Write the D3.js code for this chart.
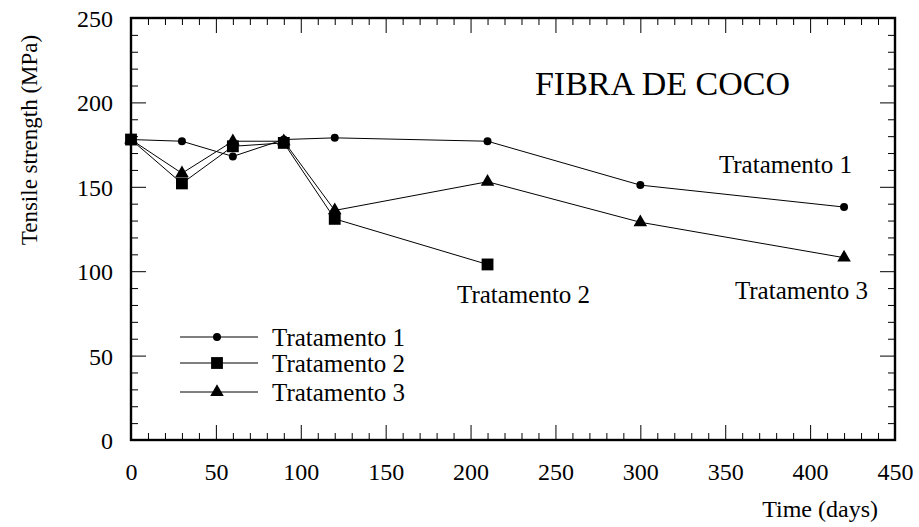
<!DOCTYPE html>
<html>
<head>
<meta charset="utf-8">
<script src="https://cdn.jsdelivr.net/npm/d3@7"></script>
<style>
  html, body { margin: 0; padding: 0; background: #fff; }
  svg, svg text { font-family: "Liberation Serif", "Times New Roman", Times, "DejaVu Serif", serif !important; fill: #000; }
</style>
</head>
<body>
<svg id="chart" width="919" height="527" font-family="Liberation Serif, serif"></svg>
<script>
// ---- data ----
const daysT1 = [0, 30, 60, 90, 120, 210, 300, 420];
const valuesT1 = [178, 177, 168, 178, 179, 177, 151, 138];
const daysT2 = [0, 30, 60, 90, 120, 210];
const valuesT2 = [178, 152, 174, 176, 131, 104];
const daysT3 = [0, 30, 60, 90, 120, 210, 300, 420];
const valuesT3 = [178, 158, 177, 177, 136, 153, 129, 108];
const seriesNames = ["Tratamento 1", "Tratamento 2", "Tratamento 3"];
const xTickValues = [0, 50, 100, 150, 200, 250, 300, 350, 400, 450];
const yTickValues = [0, 50, 100, 150, 200, 250];
const chartTitle = "FIBRA DE COCO";
const xTitle = "Time (days)";
const yTitle = "Tensile strength (MPa)";

const series = [
  { name: seriesNames[0], days: daysT1, values: valuesT1, symbol: "circle" },
  { name: seriesNames[1], days: daysT2, values: valuesT2, symbol: "square" },
  { name: seriesNames[2], days: daysT3, values: valuesT3, symbol: "triangle" }
];

const FONT = "'Liberation Serif', 'Times New Roman', serif";
const svg = d3.select("#chart");
const pLeft = 131, pRight = 895, pTop = 18, pBottom = 440;

const x = d3.scaleLinear().domain([0, 450]).range([pLeft, pRight]);
const y = d3.scaleLinear().domain([0, 250]).range([pBottom, pTop]);

const majorLen = 15, minorLen = 7;
const xMinor = d3.range(0, 451, 10).filter(v => v % 50 !== 0);
const yMinor = d3.range(0, 251, 10).filter(v => v % 50 !== 0);

function styleAxis(g) {
  g.attr("font-family", FONT);
  g.select(".domain").remove();
  g.selectAll(".tick line").attr("stroke", "#000").attr("stroke-width", 1);
}

// bottom axis (ticks inward)
const gB = svg.append("g").attr("transform", `translate(0,${pBottom})`)
  .call(d3.axisBottom(x).tickValues(xTickValues).tickSize(-majorLen).tickFormat(d3.format("d")));
styleAxis(gB);
gB.selectAll(".tick text").attr("font-size", 24).attr("font-family", FONT).attr("dy", "0.35em").attr("y", 32);
svg.append("g").attr("transform", `translate(0,${pBottom})`)
  .call(d3.axisBottom(x).tickValues(xMinor).tickSize(-minorLen).tickFormat(""))
  .call(styleAxis);

// top axis
svg.append("g").attr("transform", `translate(0,${pTop})`)
  .call(d3.axisTop(x).tickValues(xTickValues).tickSize(-majorLen).tickFormat(""))
  .call(styleAxis);
svg.append("g").attr("transform", `translate(0,${pTop})`)
  .call(d3.axisTop(x).tickValues(xMinor).tickSize(-minorLen).tickFormat(""))
  .call(styleAxis);

// left axis
const gL = svg.append("g").attr("transform", `translate(${pLeft},0)`)
  .call(d3.axisLeft(y).tickValues(yTickValues).tickSize(-majorLen).tickFormat(d3.format("d")));
styleAxis(gL);
gL.selectAll(".tick text").attr("font-size", 24).attr("font-family", FONT).attr("x", -18).attr("dy", "0.35em").attr("text-anchor", "end");
svg.append("g").attr("transform", `translate(${pLeft},0)`)
  .call(d3.axisLeft(y).tickValues(yMinor).tickSize(-minorLen).tickFormat(""))
  .call(styleAxis);

// right axis
svg.append("g").attr("transform", `translate(${pRight},0)`)
  .call(d3.axisRight(y).tickValues(yTickValues).tickSize(-majorLen).tickFormat(""))
  .call(styleAxis);
svg.append("g").attr("transform", `translate(${pRight},0)`)
  .call(d3.axisRight(y).tickValues(yMinor).tickSize(-minorLen).tickFormat(""))
  .call(styleAxis);

// frame
svg.append("rect").attr("x", pLeft).attr("y", pTop).attr("width", pRight - pLeft).attr("height", pBottom - pTop)
  .attr("fill", "none").attr("stroke", "#000").attr("stroke-width", 2.4);

// symbols
function symbolPath(kind) {
  if (kind === "square") return d3.symbol(d3.symbolSquare, 140)();
  if (kind === "triangle") return d3.symbol(d3.symbolTriangle, 80)();
  return d3.symbol(d3.symbolCircle, 50)();
}

const line = d3.line().x(d => x(d[0])).y(d => y(d[1]));

series.forEach(s => {
  const pts = s.days.map((d, i) => [d, s.values[i]]);
  svg.append("path").datum(pts).attr("d", line)
    .attr("fill", "none").attr("stroke", "#000").attr("stroke-width", 1);
});
series.forEach(s => {
  const pts = s.days.map((d, i) => [d, s.values[i]]);
  svg.append("g").selectAll("path").data(pts).join("path")
    .attr("transform", d => `translate(${x(d[0])},${y(d[1])})`)
    .attr("d", symbolPath(s.symbol)).attr("fill", "#000");
});

function addText(xp, yp, anchor, size, txt) {
  return svg.append("text").attr("x", xp).attr("y", yp).attr("text-anchor", anchor)
    .attr("font-family", FONT).attr("font-size", size).text(txt);
}

// series labels
addText(852, 173, "end", 25, seriesNames[0]);
addText(457, 303, "start", 25, seriesNames[1]);
addText(868, 299, "end", 25, seriesNames[2]);

// title
addText(790, 95, "end", 34, chartTitle);

// legend
const legRows = [337, 363, 392];
series.forEach((s, i) => {
  const g = svg.append("g");
  g.append("line").attr("x1", 180).attr("x2", 258).attr("y1", legRows[i]).attr("y2", legRows[i])
    .attr("stroke", "#000").attr("stroke-width", 1);
  g.append("path").attr("transform", `translate(217,${legRows[i]})`).attr("d", symbolPath(s.symbol)).attr("fill", "#000");
  addText(272, legRows[i] + 9, "start", 25, s.name);
});

// axis titles
addText(878, 517, "end", 24, xTitle);
svg.append("text").attr("transform", "translate(37,140) rotate(-90)").attr("text-anchor", "middle")
  .attr("font-family", FONT).attr("font-size", 23).text(yTitle);
</script>
</body>
</html>
